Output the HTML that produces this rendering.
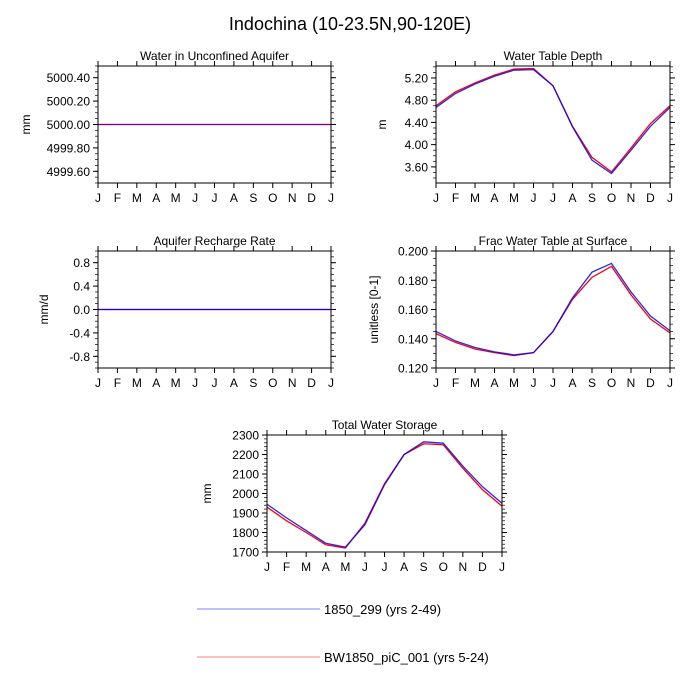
<!DOCTYPE html>
<html><head><meta charset="utf-8"><style>
body{margin:0;background:#fff;}
svg{display:block;font-family:"Liberation Sans",Helvetica,Arial,sans-serif;}
</style></head><body>
<svg id="fig" width="700" height="700" viewBox="0 0 700 700" xmlns="http://www.w3.org/2000/svg">
<text x="350" y="30" font-size="18" text-anchor="middle">Indochina (10-23.5N,90-120E)</text>
<g>
<line x1="197" y1="609" x2="320" y2="609" stroke="#8080ff" stroke-width="1"/>
<text x="324" y="614" font-size="13">1850_299 (yrs 2-49)</text>
<line x1="197" y1="657" x2="320" y2="657" stroke="#ff8080" stroke-width="1"/>
<text x="324" y="662" font-size="13">BW1850_piC_001 (yrs 5-24)</text>
</g>
</svg>
<script>
const months = ["J","F","M","A","M","J","J","A","S","O","N","D","J"];
const aquiferBlue = [5000,5000,5000,5000,5000,5000,5000,5000,5000,5000,5000,5000,5000];
const aquiferRed = [5000,5000,5000,5000,5000,5000,5000,5000,5000,5000,5000,5000,5000];
const aquiferTicks = ["4999.60","4999.80","5000.00","5000.20","5000.40"];
const wtdBlue = [4.67,4.92,5.09,5.23,5.34,5.35,5.06,4.32,3.72,3.48,3.90,4.33,4.67];
const wtdRed = [4.70,4.95,5.11,5.25,5.36,5.37,5.06,4.33,3.77,3.51,3.94,4.38,4.70];
const wtdTicks = ["3.60","4.00","4.40","4.80","5.20"];
const rechBlue = [0,0,0,0,0,0,0,0,0,0,0,0,0];
const rechRed = [0,0,0,0,0,0,0,0,0,0,0,0,0];
const rechTicks = ["-0.8","-0.4","0.0","0.4","0.8"];
const fracBlue = [0.145,0.1385,0.134,0.131,0.129,0.1305,0.145,0.168,0.1855,0.1915,0.172,0.1555,0.1455];
const fracRed = [0.1435,0.1375,0.133,0.1305,0.1285,0.1305,0.145,0.167,0.182,0.1895,0.170,0.1535,0.144];
const fracTicks = ["0.120","0.140","0.160","0.180","0.200"];
const twsBlue = [1945,1875,1810,1745,1725,1840,2045,2200,2265,2258,2140,2035,1950];
const twsRed = [1930,1860,1800,1737,1720,1848,2050,2200,2255,2250,2130,2020,1935];
const twsTicks = ["1700","1800","1900","2000","2100","2200","2300"];

const NS="http://www.w3.org/2000/svg";
const svg=document.getElementById('fig');
function mk(tag,attrs,parent){const e=document.createElementNS(NS,tag);for(const k in attrs)e.setAttribute(k,attrs[k]);(parent||svg).appendChild(e);return e;}

function panel(name,title,ylabel,L,R,T,B,ymin,ymax,ticks,blue,red,minorPer,blueOp){
  const g=mk('g',{});
  
  
  const xs=i=>L+(R-L)*i/(months.length-1);
  const ys=v=>B-(B-T)*(v-ymin)/(ymax-ymin);
  months.forEach((m,i)=>{
    const x=xs(i);
    mk('line',{x1:x,y1:B,x2:x,y2:B+5,stroke:'#000','stroke-width':1},g);
    mk('line',{x1:x,y1:T,x2:x,y2:T-5,stroke:'#000','stroke-width':1},g);
    const t=mk('text',{x:x,y:B+19,'font-size':12,'text-anchor':'middle'},g);
    t.textContent=m;
    
    
  });
  const tv=ticks.map(Number);
  const step=tv[1]-tv[0];
  const mstep=step/minorPer;
  for(let v=tv[0]-step;v<=tv[tv.length-1]+step+1e-9;v+=mstep){
    if(v<ymin-1e-9||v>ymax+1e-9)continue;
    const y=ys(v);
    mk('line',{x1:L,y1:y,x2:L-3,y2:y,stroke:'#000','stroke-width':0.7},g);
    mk('line',{x1:R,y1:y,x2:R+3,y2:y,stroke:'#000','stroke-width':0.7},g);
  }
  ticks.forEach(s=>{
    const y=ys(Number(s));
    mk('line',{x1:L,y1:y,x2:L-5,y2:y,stroke:'#000','stroke-width':1},g);
    mk('line',{x1:R,y1:y,x2:R+5,y2:y,stroke:'#000','stroke-width':1},g);
    const t=mk('text',{x:L-8,y:y+4.5,'font-size':12,'text-anchor':'end'},g);
    t.textContent=s;
    
    
  });
  const tt=mk('text',{x:(L+R)/2,y:T-6,'font-size':12,'text-anchor':'middle'},g);
  tt.textContent=title;
  
  
  const yl=mk('text',{x:0,y:0,'font-size':12,'text-anchor':'middle',transform:`translate(${L-ylabel[1]},${(T+B)/2}) rotate(-90)`},g);
  yl.textContent=ylabel[0];
  
  
  const pts=a=>a.map((v,i)=>xs(i).toFixed(2)+','+ys(v).toFixed(2)).join(' ');
  const r=mk('polyline',{points:pts(red),fill:'none',stroke:'#ff0000','stroke-width':1.3},g);
  
  
  const b=mk('polyline',{points:pts(blue),fill:'none',stroke:'#0000ff','stroke-width':1.3,'stroke-opacity':blueOp},g);
  
  
  mk('rect',{x:L,y:T,width:R-L,height:B-T,fill:'none',stroke:'#000','stroke-width':1},g);
}
panel('aquifer','Water in Unconfined Aquifer',['mm',68],98,331,66,183,4999.5,5000.5,aquiferTicks,aquiferBlue,aquiferRed,4,0.55);
panel('wtd','Water Table Depth',['m',50],436,670,66,183,3.31,5.415,wtdTicks,wtdBlue,wtdRed,4,0.85);
panel('recharge','Aquifer Recharge Rate',['mm/d',50],98,331,251,368,-1,1,rechTicks,rechBlue,rechRed,4,0.9);
panel('frac','Frac Water Table at Surface',['unitless [0-1]',58],436,670,251,368,0.12,0.2,fracTicks,fracBlue,fracRed,4,0.85);
panel('tws','Total Water Storage',['mm',56],267,502,435,552,1700,2300,twsTicks,twsBlue,twsRed,5,0.85);
</script>
</body></html>
